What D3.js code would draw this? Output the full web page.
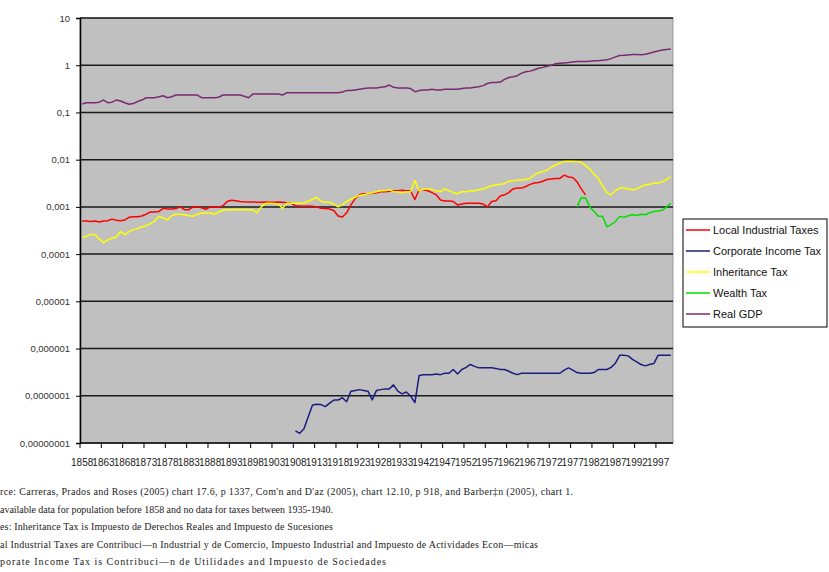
<!DOCTYPE html>
<html>
<head>
<meta charset="utf-8">
<script src="https://cdn.jsdelivr.net/npm/d3@7"></script>
<style>
  body { margin: 0; background: #fff; }
  svg { display: block; }
</style>
</head>
<body>
<div id="chart"></div>
<script>
// categories (no data 1936-1939, so those years are not on the axis)
const years = [
  1858,1859,1860,1861,1862,1863,1864,1865,1866,1867,
  1868,1869,1870,1871,1872,1873,1874,1875,1876,1877,
  1878,1879,1880,1881,1882,1883,1884,1885,1886,1887,
  1888,1889,1890,1891,1892,1893,1894,1895,1896,1897,
  1898,1899,1900,1901,1902,1903,1904,1905,1906,1907,
  1908,1909,1910,1911,1912,1913,1914,1915,1916,1917,
  1918,1919,1920,1921,1922,1923,1924,1925,1926,1927,
  1928,1929,1930,1931,1932,1933,1934,1935,
  1940,1941,1942,1943,1944,1945,1946,1947,1948,1949,
  1950,1951,1952,1953,1954,1955,1956,1957,1958,1959,
  1960,1961,1962,1963,1964,1965,1966,1967,1968,1969,
  1970,1971,1972,1973,1974,1975,1976,1977,1978,1979,
  1980,1981,1982,1983,1984,1985,1986,1987,1988,1989,
  1990,1991,1992,1993,1994,1995,1996,1997,1998,1999,
  2000
];

const localIndustrialTaxes = [
  5.0e-4,5.0e-4,4.9e-4,5.0e-4,4.8e-4,5.0e-4,5.1e-4,5.5e-4,5.2e-4,5.1e-4,
  5.3e-4,6.0e-4,6.2e-4,6.2e-4,6.4e-4,7.0e-4,7.8e-4,7.8e-4,8.0e-4,9.3e-4,
  9.0e-4,9.0e-4,9.2e-4,1.0e-3,8.7e-4,8.7e-4,1.0e-3,1.0e-3,9.6e-4,8.9e-4,
  1.0e-3,1.0e-3,1.0e-3,1.05e-3,1.3e-3,1.38e-3,1.35e-3,1.3e-3,1.28e-3,1.27e-3,
  1.27e-3,1.26e-3,1.25e-3,1.27e-3,1.26e-3,1.25e-3,1.27e-3,1.25e-3,1.22e-3,1.2e-3,
  1.05e-3,1.04e-3,1.03e-3,1.04e-3,1.03e-3,1.0e-3,9.4e-4,9.2e-4,9.0e-4,8.4e-4,
  6.4e-4,6.1e-4,7.5e-4,1.1e-3,1.5e-3,1.8e-3,1.9e-3,1.9e-3,1.95e-3,2.0e-3,
  2.1e-3,2.1e-3,2.15e-3,2.2e-3,2.2e-3,2.25e-3,2.2e-3,2.2e-3,
  1.43e-3,2.3e-3,2.3e-3,2.2e-3,2.0e-3,1.8e-3,1.4e-3,1.33e-3,1.33e-3,1.3e-3,
  1.1e-3,1.15e-3,1.2e-3,1.2e-3,1.2e-3,1.2e-3,1.15e-3,1.0e-3,1.3e-3,1.35e-3,
  1.7e-3,1.8e-3,2.0e-3,2.4e-3,2.5e-3,2.5e-3,2.7e-3,3.0e-3,3.2e-3,3.3e-3,
  3.5e-3,3.8e-3,3.9e-3,4.0e-3,4.0e-3,4.7e-3,4.3e-3,4.2e-3,3.4e-3,2.4e-3,
  1.8e-3,null,null,null,null,null,null,null,null,null,
  null,null,null,null,null,null,null,null,null,null,
  null
];

const corporateIncomeTax = [
  null,null,null,null,null,null,null,null,null,null,
  null,null,null,null,null,null,null,null,null,null,
  null,null,null,null,null,null,null,null,null,null,
  null,null,null,null,null,null,null,null,null,null,
  null,null,null,null,null,null,null,null,null,null,
  1.8e-8,1.6e-8,2.0e-8,3.6e-8,6.4e-8,6.6e-8,6.5e-8,5.9e-8,7.0e-8,8.1e-8,
  8.1e-8,9.1e-8,7.5e-8,1.25e-7,1.3e-7,1.35e-7,1.3e-7,1.25e-7,8.2e-8,1.3e-7,
  1.35e-7,1.4e-7,1.4e-7,1.7e-7,1.25e-7,1.1e-7,1.2e-7,9.8e-8,
  7.2e-8,2.7e-7,2.8e-7,2.8e-7,2.8e-7,2.9e-7,2.8e-7,3.0e-7,3.0e-7,3.6e-7,
  2.9e-7,3.6e-7,4.0e-7,4.6e-7,4.2e-7,3.9e-7,3.9e-7,3.9e-7,3.9e-7,3.8e-7,
  3.6e-7,3.6e-7,3.3e-7,3.0e-7,2.8e-7,3.0e-7,3.0e-7,3.0e-7,3.0e-7,3.0e-7,
  3.0e-7,3.0e-7,3.0e-7,3.0e-7,3.0e-7,3.5e-7,3.9e-7,3.5e-7,3.1e-7,3.0e-7,
  3.0e-7,3.0e-7,3.1e-7,3.6e-7,3.6e-7,3.6e-7,4.0e-7,4.9e-7,7.2e-7,7.2e-7,
  7.0e-7,5.9e-7,5.2e-7,4.6e-7,4.3e-7,4.6e-7,4.8e-7,7.2e-7,7.2e-7,7.2e-7,
  7.2e-7
];

const inheritanceTax = [
  2.26e-4,2.4e-4,2.6e-4,2.6e-4,2.1e-4,1.75e-4,2.0e-4,2.16e-4,2.3e-4,3.0e-4,
  2.6e-4,3.0e-4,3.3e-4,3.5e-4,3.8e-4,4.0e-4,4.4e-4,5.0e-4,6.3e-4,5.8e-4,
  5.3e-4,6.5e-4,7.0e-4,7.0e-4,6.8e-4,6.5e-4,6.3e-4,7.0e-4,7.4e-4,7.4e-4,
  7.4e-4,7.0e-4,7.8e-4,8.5e-4,8.7e-4,8.7e-4,8.7e-4,8.8e-4,8.7e-4,8.6e-4,
  8.7e-4,7.5e-4,1.0e-3,1.19e-3,1.19e-3,1.18e-3,1.15e-3,9.3e-4,1.2e-3,1.2e-3,
  1.2e-3,1.2e-3,1.22e-3,1.3e-3,1.45e-3,1.6e-3,1.3e-3,1.25e-3,1.25e-3,1.15e-3,
  1.0e-3,1.1e-3,1.3e-3,1.45e-3,1.6e-3,1.75e-3,1.8e-3,1.9e-3,2.0e-3,2.1e-3,
  2.2e-3,2.2e-3,2.3e-3,2.1e-3,2.1e-3,2.0e-3,2.1e-3,2.1e-3,
  3.6e-3,2.2e-3,2.4e-3,2.4e-3,2.35e-3,2.2e-3,2.1e-3,2.4e-3,2.2e-3,2.0e-3,
  1.9e-3,2.1e-3,2.1e-3,2.2e-3,2.2e-3,2.3e-3,2.4e-3,2.6e-3,2.8e-3,2.9e-3,
  3.0e-3,3.1e-3,3.5e-3,3.6e-3,3.7e-3,3.7e-3,3.8e-3,4.0e-3,4.8e-3,5.3e-3,
  5.6e-3,6.0e-3,7.0e-3,7.7e-3,8.5e-3,9.1e-3,9.1e-3,9.1e-3,9.0e-3,8.8e-3,
  7.5e-3,6.3e-3,5.0e-3,4.0e-3,2.8e-3,2.0e-3,1.8e-3,2.2e-3,2.5e-3,2.5e-3,
  2.4e-3,2.3e-3,2.4e-3,2.7e-3,2.9e-3,3.0e-3,3.2e-3,3.2e-3,3.4e-3,3.8e-3,
  4.4e-3
];

const wealthTax = [
  null,null,null,null,null,null,null,null,null,null,
  null,null,null,null,null,null,null,null,null,null,
  null,null,null,null,null,null,null,null,null,null,
  null,null,null,null,null,null,null,null,null,null,
  null,null,null,null,null,null,null,null,null,null,
  null,null,null,null,null,null,null,null,null,null,
  null,null,null,null,null,null,null,null,null,null,
  null,null,null,null,null,null,null,null,
  null,null,null,null,null,null,null,null,null,null,
  null,null,null,null,null,null,null,null,null,null,
  null,null,null,null,null,null,null,null,null,null,
  null,null,null,null,null,null,null,null,1.0e-3,1.57e-3,
  1.55e-3,1.0e-3,8.0e-4,6.3e-4,6.3e-4,3.8e-4,4.2e-4,4.9e-4,6.3e-4,6.0e-4,
  6.5e-4,6.8e-4,6.6e-4,7.0e-4,6.8e-4,7.5e-4,8.0e-4,8.2e-4,8.5e-4,1.0e-3,
  1.2e-3
];

const realGDP = [
  0.151,0.161,0.161,0.161,0.165,0.183,0.161,0.165,0.183,0.175,
  0.16,0.149,0.155,0.17,0.183,0.205,0.205,0.205,0.215,0.226,
  0.205,0.215,0.234,0.234,0.234,0.234,0.234,0.234,0.205,0.205,
  0.205,0.205,0.21,0.234,0.234,0.234,0.234,0.234,0.22,0.205,
  0.245,0.245,0.245,0.245,0.245,0.245,0.245,0.234,0.262,0.262,
  0.262,0.262,0.26,0.26,0.26,0.26,0.26,0.26,0.26,0.26,
  0.26,0.27,0.29,0.29,0.3,0.31,0.32,0.33,0.33,0.33,
  0.34,0.35,0.38,0.34,0.33,0.33,0.33,0.32,
  0.275,0.29,0.3,0.3,0.31,0.3,0.3,0.31,0.31,0.31,
  0.31,0.32,0.33,0.33,0.34,0.35,0.37,0.41,0.43,0.43,
  0.44,0.5,0.55,0.57,0.6,0.68,0.73,0.75,0.8,0.86,
  0.9,0.95,1.0,1.08,1.1,1.12,1.14,1.17,1.2,1.2,
  1.2,1.22,1.24,1.25,1.28,1.3,1.38,1.5,1.6,1.62,
  1.65,1.68,1.68,1.66,1.7,1.8,1.9,2.0,2.1,2.15,
  2.2
];

const seriesNames = ['Local Industrial Taxes', 'Corporate Income Tax', 'Inheritance Tax', 'Wealth Tax', 'Real GDP'];
const seriesColors = ['#ff0000', '#1c1c80', '#ffff00', '#00e000', '#7a2a72'];

const xTickLabels = ['1858','1863','1868','1873','1878','1883','1888','1893','1898','1903',
  '1908','1913','1918','1923','1928','1933','1942','1947','1952','1957',
  '1962','1967','1972','1977','1982','1987','1992','1997'];

const yTickValues = [1e-8, 1e-7, 1e-6, 1e-5, 1e-4, 1e-3, 1e-2, 1e-1, 1, 10];
const yTickLabels = ['0,00000001','0,0000001','0,000001','0,00001','0,0001','0,001','0,01','0,1','1','10'];

// the notes as far as they are visible in the chart (their start is cut off at the left)
const notes = [
  'rce: Carreras, Prados and Roses (2005) chart 17.6, p 1337, Com\'n and D\'az (2005), chart 12.10, p 918, and Barber\u2021n (2005), chart 1.',
  'available data for population before 1858 and no data for taxes between 1935-1940.',
  'es: Inheritance Tax is Impuesto de Derechos Reales and Impuesto de Sucesiones',
  'al Industrial Taxes are Contribuci\u2014n Industrial y de Comercio, Impuesto Industrial and Impuesto de Actividades Econ\u2014micas',
  'porate Income Tax is Contribuci\u2014n de Utilidades and Impuesto de Sociedades'
];
const noteWidths = [573, 333, 333, 538, 386];

// ---- drawing ----
const W = 829, H = 572;
const plot = { left: 80, top: 18, right: 673, bottom: 443 };

const svg = d3.select('#chart').append('svg')
  .attr('width', W).attr('height', H)
  .style('font-family', '"Liberation Sans", Arial, sans-serif');

svg.append('rect').attr('width', W).attr('height', H).attr('fill', '#fff');

const x = d3.scaleBand()
  .domain(years)
  .range([plot.left, plot.right])
  .paddingInner(0).paddingOuter(0);
const y = d3.scaleLog()
  .domain([1e-8, 10])
  .range([plot.bottom, plot.top]);

// plot area
svg.append('rect')
  .attr('x', plot.left).attr('y', plot.top)
  .attr('width', plot.right - plot.left).attr('height', plot.bottom - plot.top)
  .attr('fill', '#c0c0c0')
  .attr('stroke', '#9a9a9a');

// gridlines
svg.append('g').selectAll('line')
  .data(yTickValues.slice(1))
  .enter().append('line')
  .attr('x1', plot.left).attr('x2', plot.right)
  .attr('y1', d => y(d)).attr('y2', d => y(d))
  .attr('stroke', '#1a1a1a').attr('stroke-width', 1.5);

// y axis
const yAxis = d3.axisLeft(y)
  .tickValues(yTickValues)
  .tickSize(4)
  .tickPadding(6)
  .tickFormat((d, i) => yTickLabels[i]);
const gy = svg.append('g')
  .attr('transform', `translate(${plot.left},0)`)
  .call(yAxis);
gy.select('.domain').attr('stroke', '#000').attr('stroke-width', 1.5);
gy.selectAll('.tick line').attr('stroke', '#000');
gy.selectAll('.tick text').attr('font-size', '9.5px').attr('fill', '#333');

// x axis: labels centred on categories, ticks on category boundaries
const xAxis = d3.axisBottom(x)
  .tickValues(xTickLabels.map(Number))
  .tickSize(0)
  .tickPadding(16)
  .tickFormat(d => String(d));
const gx = svg.append('g')
  .attr('transform', `translate(0,${plot.bottom})`)
  .call(xAxis);
gx.select('.domain').remove();
gx.selectAll('.tick text').attr('font-size', '10px').attr('fill', '#222');
gx.selectAll('.tick').append('line')
  .attr('x1', -x.bandwidth() / 2).attr('x2', -x.bandwidth() / 2)
  .attr('y1', 0).attr('y2', 5)
  .attr('stroke', '#000');
svg.append('line')
  .attr('x1', plot.left).attr('x2', plot.right)
  .attr('y1', plot.bottom).attr('y2', plot.bottom)
  .attr('stroke', '#000').attr('stroke-width', 1.5);

// series lines
const allSeries = [localIndustrialTaxes, corporateIncomeTax, inheritanceTax, wealthTax, realGDP];
const line = d3.line()
  .defined(d => d.v != null)
  .x(d => x(d.year) + x.bandwidth() / 2)
  .y(d => y(d.v));

allSeries.forEach((vals, k) => {
  const pts = years.map((yr, i) => ({ year: yr, v: vals[i] }));
  svg.append('path')
    .datum(pts)
    .attr('fill', 'none')
    .attr('stroke', seriesColors[k])
    .attr('stroke-width', 1.5)
    .attr('stroke-linejoin', 'round')
    .attr('d', line);
});

// legend
const lg = svg.append('g').attr('transform', 'translate(683,219)');
lg.append('rect')
  .attr('width', 144).attr('height', 108)
  .attr('fill', '#fff').attr('stroke', '#000');
seriesNames.forEach((name, i) => {
  const yy = 11 + i * 21;
  lg.append('line')
    .attr('x1', 3).attr('x2', 27).attr('y1', yy).attr('y2', yy)
    .attr('stroke', seriesColors[i]).attr('stroke-width', 1.5);
  lg.append('text')
    .attr('x', 30).attr('y', yy + 4)
    .attr('font-size', '11px').attr('fill', '#111')
    .text(name);
});

// notes below the chart
notes.forEach((t, i) => {
  svg.append('text')
    .attr('x', 0).attr('y', 495 + i * 17.5)
    .attr('font-family', '"Liberation Serif", "Times New Roman", serif')
    .attr('font-size', '10px').attr('fill', '#222')
    .attr('textLength', noteWidths[i])
    .attr('lengthAdjust', 'spacing')
    .text(t);
});
</script>
</body>
</html>
